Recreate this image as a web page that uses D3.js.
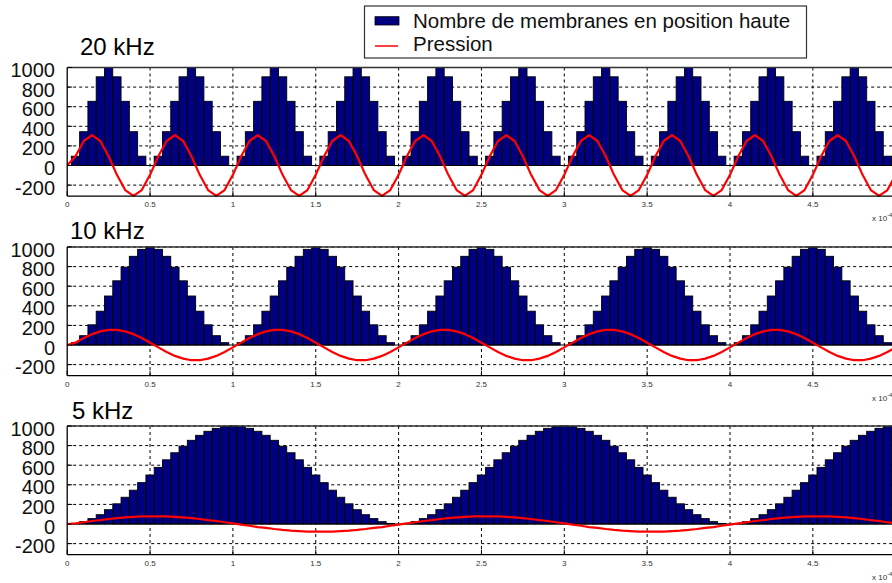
<!DOCTYPE html>
<html><head><meta charset="utf-8">
<script src="https://cdn.jsdelivr.net/npm/d3@7/dist/d3.min.js"></script>
<style>
body{margin:0;background:#fff;}
svg{display:block;font-family:"Liberation Sans",Arial,sans-serif;}
</style>
</head><body>
<svg id="chart" width="892" height="583"></svg>
<script>
// ---------- DATA ----------
const panelTitles = ["20 kHz", "10 kHz", "5 kHz"];
const legendLabels = ["Nombre de membranes en position haute", "Pression"];
const yTickValues = [-200, 0, 200, 400, 600, 800, 1000];
const xTickValues = [0, 0.5, 1, 1.5, 2, 2.5, 3, 3.5, 4, 4.5];
const xTickLabels = ["0", "0.5", "1", "1.5", "2", "2.5", "3", "3.5", "4", "4.5"];
const xExponent = "-4";

// bar values (membranes up), one every 0.05 (x 10^-4 s), t = 0 .. 4.95
const membranes20 = [
0,95,345,655,905,1000,905,655,345,95,
0,95,345,655,905,1000,905,655,345,95,
0,95,345,655,905,1000,905,655,345,95,
0,95,345,655,905,1000,905,655,345,95,
0,95,345,655,905,1000,905,655,345,95,
0,95,345,655,905,1000,905,655,345,95,
0,95,345,655,905,1000,905,655,345,95,
0,95,345,655,905,1000,905,655,345,95,
0,95,345,655,905,1000,905,655,345,95,
0,95,345,655,905,1000,905,655,345,95
];
const membranes10 = [
0,24,95,206,345,500,655,794,905,976,1000,976,905,794,655,500,345,206,95,24,
0,24,95,206,345,500,655,794,905,976,1000,976,905,794,655,500,345,206,95,24,
0,24,95,206,345,500,655,794,905,976,1000,976,905,794,655,500,345,206,95,24,
0,24,95,206,345,500,655,794,905,976,1000,976,905,794,655,500,345,206,95,24,
0,24,95,206,345,500,655,794,905,976,1000,976,905,794,655,500,345,206,95,24
];
const membranes5 = [
0,6,24,55,95,146,206,273,345,422,500,578,655,727,794,854,905,946,976,994,
1000,994,976,946,905,854,794,727,655,578,500,422,345,273,206,146,95,55,24,6,
0,6,24,55,95,146,206,273,345,422,500,578,655,727,794,854,905,946,976,994,
1000,994,976,946,905,854,794,727,655,578,500,422,345,273,206,146,95,55,24,6,
0,6,24,55,95,146,206,273,345,422,500,578,655,727,794,854,905,946,976,994
];

// pressure, one every 0.05, t = 0 .. 5
const pressure20 = [0,
95,250,310,250,95,-95,-250,-310,-250,-95,
95,250,310,250,95,-95,-250,-310,-250,-95,
95,250,310,250,95,-95,-250,-310,-250,-95,
95,250,310,250,95,-95,-250,-310,-250,-95,
95,250,310,250,95,-95,-250,-310,-250,-95,
95,250,310,250,95,-95,-250,-310,-250,-95,
95,250,310,250,95,-95,-250,-310,-250,-95,
95,250,310,250,95,-95,-250,-310,-250,-95,
95,250,310,250,95,-95,-250,-310,-250,-95,
95,250,310,250,95,-95,-250,-310,-250,-95
];
const pressure10 = [0,
24,71,111,139,155,155,139,111,71,24,-24,-71,-111,-139,-155,-155,-139,-111,-71,-24,
24,71,111,139,155,155,139,111,71,24,-24,-71,-111,-139,-155,-155,-139,-111,-71,-24,
24,71,111,139,155,155,139,111,71,24,-24,-71,-111,-139,-155,-155,-139,-111,-71,-24,
24,71,111,139,155,155,139,111,71,24,-24,-71,-111,-139,-155,-155,-139,-111,-71,-24,
24,71,111,139,155,155,139,111,71,24,-24,-71,-111,-139,-155,-155,-139,-111,-71,-24
];
const pressure5 = [0,
6,18,31,40,51,60,67,72,77,78,78,77,72,67,60,51,40,31,18,6,
-6,-18,-31,-40,-51,-60,-67,-72,-77,-78,-78,-77,-72,-67,-60,-51,-40,-31,-18,-6,
6,18,31,40,51,60,67,72,77,78,78,77,72,67,60,51,40,31,18,6,
-6,-18,-31,-40,-51,-60,-67,-72,-77,-78,-78,-77,-72,-67,-60,-51,-40,-31,-18,-6,
6,18,31,40,51,60,67,72,77,78,78,77,72,67,60,51,40,31,18,6
];

const membraneSeries = [membranes20, membranes10, membranes5];
const pressureSeries = [pressure20, pressure10, pressure5];
const sampleStep = 0.05;

// ---------- LAYOUT ----------
const W = 892, H = 583;
const svg = d3.select("#chart");
svg.append("rect").attr("width", W).attr("height", H).attr("fill", "#fff");

const x = d3.scaleLinear().domain([0, 5]).range([67.2, 895.7]);
const panelTops = [67.5, 247, 426];
const panelH = 128.6;
const titlePos = [[80, 55], [70, 239], [72, 419]];
const navy = "#000080";
const bw = x(sampleStep) - x(0);

panelTitles.forEach((title, p) => {
  const top = panelTops[p], bottom = top + panelH;
  const y = d3.scaleLinear().domain([-312, 1000]).range([bottom, top]);
  const g = svg.append("g");

  const clipId = "clip" + p;
  svg.append("clipPath").attr("id", clipId)
    .append("rect").attr("x", x(0)).attr("y", top - 1).attr("width", x(5) - x(0)).attr("height", panelH + 2);

  // grid
  g.selectAll(".hg").data(yTickValues.filter(v => v !== 0)).join("line")
    .attr("x1", x(0)).attr("x2", x(5)).attr("y1", d => y(d)).attr("y2", d => y(d))
    .attr("stroke", "#000").attr("stroke-width", 1).attr("stroke-dasharray", "3,3");
  g.selectAll(".vg").data(xTickValues.filter(v => v > 0)).join("line")
    .attr("x1", d => x(d)).attr("x2", d => x(d)).attr("y1", top).attr("y2", bottom)
    .attr("stroke", "#000").attr("stroke-width", 1).attr("stroke-dasharray", "3,3");

  // bars
  const bars = membraneSeries[p].map((v, i) => ({t: i * sampleStep, v}));
  g.append("g").attr("clip-path", `url(#${clipId})`)
    .selectAll("rect").data(bars).join("rect")
    .attr("x", d => x(d.t) - bw / 2).attr("width", bw)
    .attr("y", d => y(Math.max(d.v, 0))).attr("height", d => Math.abs(y(0) - y(d.v)))
    .attr("fill", navy).attr("stroke", "#000").attr("stroke-width", 0.9);

  // baseline
  g.append("line").attr("x1", x(0)).attr("x2", x(5)).attr("y1", y(0)).attr("y2", y(0))
    .attr("stroke", "#000").attr("stroke-width", 1.2);

  // pressure
  const pts = pressureSeries[p].map((v, i) => ({t: i * sampleStep, v}));
  g.append("path").datum(pts).attr("clip-path", `url(#${clipId})`)
    .attr("d", d3.line().x(d => x(d.t)).y(d => y(d.v)))
    .attr("fill", "none").attr("stroke", "#ff0000").attr("stroke-width", 2.2)
    .attr("stroke-linejoin", "round");

  // frame
  g.append("line").attr("x1", x(0)).attr("x2", x(5)).attr("y1", top).attr("y2", top)
    .attr("stroke", "#333").attr("stroke-width", 1.5);
  g.append("line").attr("x1", x(0)).attr("x2", x(5)).attr("y1", bottom).attr("y2", bottom)
    .attr("stroke", "#000").attr("stroke-width", 1.3);
  g.append("line").attr("x1", x(0)).attr("x2", x(0)).attr("y1", top).attr("y2", bottom)
    .attr("stroke", "#000").attr("stroke-width", 1.3);

  // ticks
  g.selectAll(".yt").data(yTickValues).join("line")
    .attr("x1", x(0)).attr("x2", x(0) + 5).attr("y1", d => y(d)).attr("y2", d => y(d))
    .attr("stroke", "#000");
  g.selectAll(".xt").data(xTickValues).join("line")
    .attr("x1", d => x(d)).attr("x2", d => x(d)).attr("y1", bottom).attr("y2", bottom - 5)
    .attr("stroke", "#000");

  // y labels
  g.selectAll(".yl").data(yTickValues).join("text")
    .attr("x", 55).attr("y", d => y(d) + 9.5)
    .attr("text-anchor", "end").attr("font-size", 20).attr("fill", "#111")
    .text(d => d);

  // x labels
  g.selectAll(".xl").data(xTickValues).join("text")
    .attr("x", d => x(d)).attr("y", bottom + 11)
    .attr("text-anchor", "middle").attr("font-size", 8).attr("fill", "#333")
    .text((d, i) => xTickLabels[i]);

  // exponent
  const ex = g.append("text").attr("x", 872).attr("y", bottom + 25)
    .attr("font-size", 8).attr("fill", "#333");
  ex.append("tspan").text("x 10");
  ex.append("tspan").attr("dy", -4).attr("font-size", 6).text(xExponent);

  // title
  g.append("text").attr("x", titlePos[p][0]).attr("y", titlePos[p][1])
    .attr("font-size", 24).attr("fill", "#000").text(title);
});

// legend
const lg = svg.append("g");
lg.append("rect").attr("x", 364.5).attr("y", 6).attr("width", 442).attr("height", 52)
  .attr("fill", "#fff").attr("stroke", "#333").attr("stroke-width", 1.2);
lg.append("rect").attr("x", 375).attr("y", 16.7).attr("width", 24).attr("height", 8.3)
  .attr("fill", navy).attr("stroke", "#000").attr("stroke-width", 0.8);
lg.append("line").attr("x1", 375).attr("x2", 398).attr("y1", 46).attr("y2", 46)
  .attr("stroke", "#ff0000").attr("stroke-width", 1.5);
lg.selectAll(".lt").data(legendLabels).join("text")
  .attr("x", 413).attr("y", (d, i) => i === 0 ? 27.5 : 51)
  .attr("font-size", 20.5).attr("fill", "#111").text(d => d);
</script>
</body></html>
